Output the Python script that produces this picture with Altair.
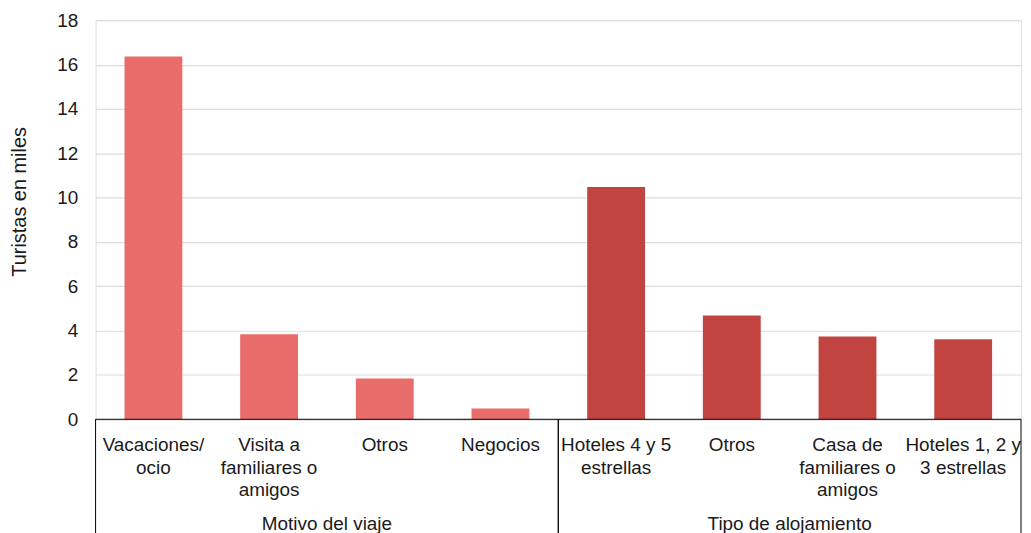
import altair as alt
import pandas as pd

categories = ["Vacaciones/\nocio", "Visita a\nfamiliares o\namigos", "Otros", "Negocios",
              "Hoteles 4 y 5\nestrellas", "Otros", "Casa de\nfamiliares o\namigos",
              "Hoteles 1, 2 y\n3 estrellas"]
values = [16.36, 3.84, 1.84, 0.49, 10.48, 4.68, 3.74, 3.61]
groups = ["Motivo del viaje"] * 4 + ["Tipo de alojamiento"] * 4
y_ticks = [0, 2, 4, 6, 8, 10, 12, 14, 16, 18]

group_names = ["Motivo del viaje", "Tipo de alojamiento"]
group_colors = ["#E86D6A", "#C24441"]

df = pd.DataFrame({
    "idx": list(range(len(categories))),
    "cat": categories,
    "value": values,
    "group": groups,
})

FONT = "Liberation Sans"
FS = 19
TFS = 20
W, H = 930, 401

xscale = alt.Scale(domain=[0, len(categories)], nice=False, zero=False, padding=0)
yscale = alt.Scale(domain=[0, 18], nice=False, padding=0)

base = alt.Chart(df)

bars = base.transform_calculate(
    x0="datum.idx + 0.25", x1="datum.idx + 0.75"
).mark_bar(orient="vertical").encode(
    x=alt.X("x0:Q", scale=xscale, axis=None),
    x2="x1:Q",
    y=alt.Y("value:Q", scale=yscale,
            axis=alt.Axis(values=y_ticks, title="Turistas en miles", grid=True,
                          domain=False, ticks=False, tickSize=0, labelPadding=18,
                          labelFont=FONT, labelFontSize=FS, labelColor="#1a1a1a",
                          titleFont=FONT, titleFontSize=TFS, titleColor="#1a1a1a",
                          titleFontWeight="normal", titleAngle=270,
                          titleAlign="center", titleBaseline="middle",
                          titleX=-76, titleY=182, titleLimit=400,
                          gridColor="#dcdcdc", gridWidth=1.2)),
    y2=alt.datum(0),
    color=alt.Color("group:N", scale=alt.Scale(domain=group_names, range=group_colors),
                    legend=None),
)

zero_line = base.transform_aggregate(
    lo="min(idx)", hi="max(idx)"
).transform_calculate(
    hi1="datum.hi + 1"
).mark_rule(color="#000000", strokeWidth=1).encode(
    x=alt.X("lo:Q", scale=xscale, axis=None),
    x2="hi1:Q",
    y=alt.datum(0),
)

bound_lo = base.transform_aggregate(
    lo="min(idx)", groupby=["group"]
).mark_rule(color="#000000", strokeWidth=1).encode(
    x=alt.X("lo:Q", scale=xscale, axis=None),
    y=alt.value(H),
    y2=alt.value(H + 140),
)

bound_hi = base.transform_aggregate(
    hi="max(idx)", groupby=["group"]
).transform_calculate(
    hi1="datum.hi + 1"
).mark_rule(color="#000000", strokeWidth=1).encode(
    x=alt.X("hi1:Q", scale=xscale, axis=None),
    y=alt.value(H),
    y2=alt.value(H + 140),
)

cat_labels = base.transform_calculate(
    pos="datum.idx + 0.5"
).mark_text(font=FONT, fontSize=FS, color="#1a1a1a", lineBreak="\n",
            lineHeight=22.5, baseline="alphabetic", align="center").encode(
    x=alt.X("pos:Q", scale=xscale, axis=None),
    y=alt.value(H + 32),
    text="cat:N",
)

group_labels = base.transform_calculate(
    pos="datum.idx + 0.5"
).transform_aggregate(
    center="mean(pos)", groupby=["group"]
).mark_text(font=FONT, fontSize=FS, color="#1a1a1a", baseline="alphabetic",
            align="center").encode(
    x=alt.X("center:Q", scale=xscale, axis=None),
    y=alt.value(H + 111),
    text="group:N",
)

chart = alt.layer(bars, zero_line, bound_lo, bound_hi, cat_labels, group_labels).properties(
    width=W, height=H,
    autosize=alt.AutoSizeParams(type="none"),
    padding={"left": 88, "top": 11, "right": 2, "bottom": 125},
).configure_view(stroke=None).configure(background="white")

chart.save("out.html", embed_options={"renderer": "svg", "actions": False})
